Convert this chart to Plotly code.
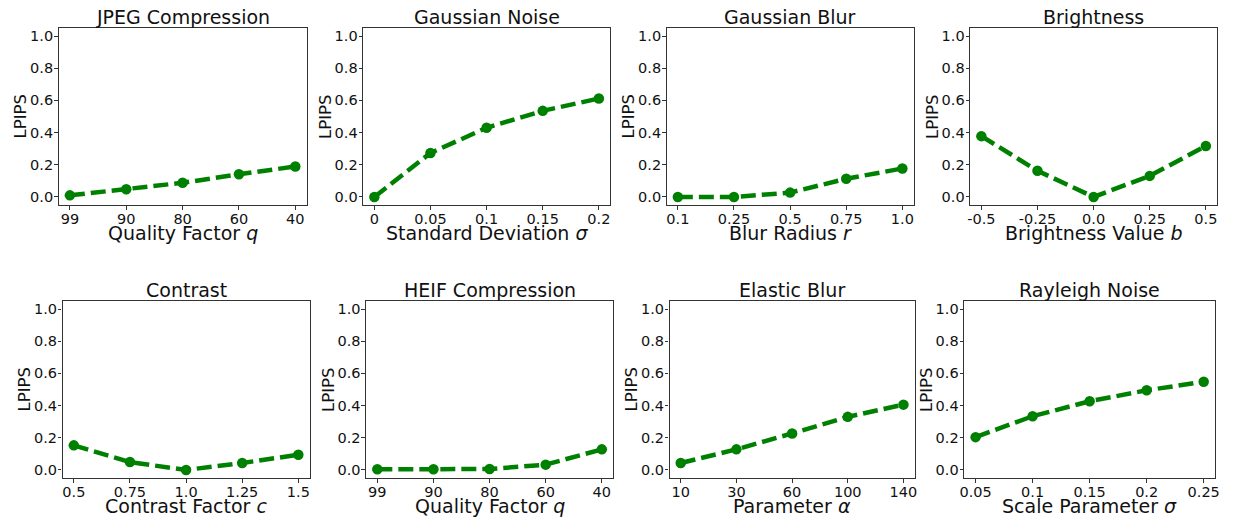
import plotly.graph_objects as go

# page has an 8px body margin; figure coordinates = page pixels - 8
OFF = 8
W, H = 1233 - OFF, 517 - OFF

titles = ["JPEG Compression", "Gaussian Noise", "Gaussian Blur", "Brightness",
          "Contrast", "HEIF Compression", "Elastic Blur", "Rayleigh Noise"]
xlabels = ["Quality Factor <i>q</i>", "Standard Deviation <i>σ</i>", "Blur Radius <i>r</i>",
           "Brightness Value <i>b</i>", "Contrast Factor <i>c</i>", "Quality Factor <i>q</i>",
           "Parameter <i>α</i>", "Scale Parameter <i>σ</i>"]

jpeg_ticks = ["99", "90", "80", "60", "40"]
jpeg_vals = [0.01, 0.048, 0.088, 0.141, 0.189]
gnoise_ticks = ["0", "0.05", "0.1", "0.15", "0.2"]
gnoise_vals = [0.0, 0.273, 0.43, 0.535, 0.612]
gblur_ticks = ["0.1", "0.25", "0.5", "0.75", "1.0"]
gblur_vals = [0.0, 0.0, 0.027, 0.113, 0.177]
bright_ticks = ["-0.5", "-0.25", "0.0", "0.25", "0.5"]
bright_vals = [0.378, 0.163, 0.0, 0.131, 0.317]
contrast_ticks = ["0.5", "0.75", "1.0", "1.25", "1.5"]
contrast_vals = [0.153, 0.049, 0.0, 0.043, 0.095]
heif_ticks = ["99", "90", "80", "60", "40"]
heif_vals = [0.004, 0.004, 0.006, 0.033, 0.128]
elastic_ticks = ["10", "30", "60", "100", "140"]
elastic_vals = [0.043, 0.128, 0.227, 0.33, 0.406]
rayleigh_ticks = ["0.05", "0.1", "0.15", "0.2", "0.25"]
rayleigh_vals = [0.204, 0.334, 0.427, 0.495, 0.548]

ticks = [jpeg_ticks, gnoise_ticks, gblur_ticks, bright_ticks,
         contrast_ticks, heif_ticks, elastic_ticks, rayleigh_ticks]
vals = [jpeg_vals, gnoise_vals, gblur_vals, bright_vals,
        contrast_vals, heif_vals, elastic_vals, rayleigh_vals]

# axes boxes in page pixels (left, right, top, bottom)
boxes = [(54, 304, 28, 205), (361, 610, 28, 205), (667, 916, 28, 205), (973, 1222, 28, 205),
         (58, 307, 301, 478), (364, 613, 301, 478), (670, 917, 301, 478), (967, 1220, 301, 478)]

FONT = "DejaVu Sans"
fig = go.Figure()
annotations = []

def fx(p):
    return (p - OFF) / W

def fy(p):
    return 1 - (p - OFF) / H

for i in range(8):
    l, r, t, b = boxes[i]
    xa = "xaxis" if i == 0 else f"xaxis{i+1}"
    ya = "yaxis" if i == 0 else f"yaxis{i+1}"
    xr = "x" if i == 0 else f"x{i+1}"
    yr = "y" if i == 0 else f"y{i+1}"
    pos = list(range(len(ticks[i])))
    fig.add_trace(go.Scatter(
        x=pos, y=vals[i], mode="lines+markers", xaxis=xr, yaxis=yr,
        line=dict(color="#008000", width=4.5, dash="15px,6px"),
        marker=dict(color="#008000", size=10.5), showlegend=False))
    fig.layout[xa] = dict(
        domain=[fx(l), fx(r)], anchor=yr, range=[-0.2, 4.2],
        tickvals=pos, ticktext=ticks[i], showgrid=False, zeroline=False,
        showline=True, linecolor="#333", linewidth=1.2, mirror=True,
        ticks="outside", ticklen=3.5, tickcolor="#333", ticklabelstandoff=-3,
        tickfont=dict(family=FONT, size=14.5, color="#111"), fixedrange=True)
    fig.layout[ya] = dict(
        domain=[fy(b), fy(t)], anchor=xr, range=[-0.05, 1.05],
        tickvals=[0, 0.2, 0.4, 0.6, 0.8, 1.0], tickformat=".1f",
        showgrid=False, zeroline=False,
        showline=True, linecolor="#333", linewidth=1.2, mirror=True,
        ticks="outside", ticklen=3.5, tickcolor="#333", ticklabelstandoff=-2,
        tickfont=dict(family=FONT, size=14.5, color="#111"), fixedrange=True)
    cx = (l + r) / 2
    annotations.append(dict(text=titles[i], x=fx(cx), y=fy(t + 2), xref="paper", yref="paper",
                            xanchor="center", yanchor="bottom", showarrow=False,
                            font=dict(family=FONT, size=19, color="#111")))
    annotations.append(dict(text=xlabels[i], x=fx(cx), y=fy(b + 28), xref="paper", yref="paper",
                            xanchor="center", yanchor="middle", showarrow=False,
                            font=dict(family=FONT, size=19, color="#111")))
    annotations.append(dict(text="LPIPS", x=fx(l - 38), y=fy((t + b) / 2), xref="paper", yref="paper",
                            xanchor="center", yanchor="middle", showarrow=False, textangle=-90,
                            font=dict(family=FONT, size=16.5, color="#111")))

fig.update_layout(width=W, height=H, margin=dict(l=0, r=0, t=0, b=0),
                  paper_bgcolor="white", plot_bgcolor="white",
                  annotations=annotations, autosize=False)
fig.write_html("out.html")
